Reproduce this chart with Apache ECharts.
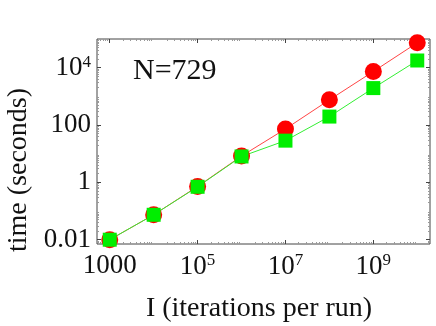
<!DOCTYPE html>
<html>
<head>
<meta charset="utf-8">
<script src="https://cdn.jsdelivr.net/npm/echarts@6/dist/echarts.min.js"></script>
<style>
  html, body { margin: 0; padding: 0; background: #fff; }
  #chart { width: 436px; height: 326px; }
</style>
</head>
<body>
<div id="chart"></div>
<script>
// iterations per run and measured times
const iterations = [1e3, 1e4, 1e5, 1e6, 1e7, 1e8, 1e9, 1e10];
const timeRed = [0.01, 0.074, 0.72, 8.3, 73, 755, 7350, 74000];
const timeGreen = [0.01, 0.074, 0.70, 8.0, 28.5, 197, 1940, 17800];

// tick positions (decade exponents) and their labels
const xTickExp = [3, 5, 7, 9];
const xTickLabels = ['1000', '10^5', '10^7', '10^9'];
const yTickExp = [-2, 0, 2, 4];
const yTickLabels = ['0.01', '1', '100', '10^4'];

const FONT = 'Liberation Serif';

function minorTicks(from, to) {
  let out = [];
  for (let e = from; e < to; e++) {
    for (let m = 2; m <= 9; m++) out.push(e + Math.log10(m));
  }
  return out;
}

function fmt(exps, labels) {
  return function (v) {
    let i = exps.findIndex(e => Math.abs(e - v) < 1e-6);
    if (i < 0) return '';
    let s = labels[i];
    if (s.indexOf('^') >= 0) {
      let p = s.split('^');
      return '{b|' + p[0] + '}{sup|' + p[1] + '}';
    }
    return '{b|' + s + '}';
  };
}

const rich = {
  b: { fontFamily: FONT, fontSize: 27, color: '#111', verticalAlign: 'bottom' },
  sup: { fontFamily: FONT, fontSize: 17, color: '#111', verticalAlign: 'bottom', padding: [0, 0, 11, 0] }
};

function axis(dir, pos, min, max, ticks, len, color, labels) {
  let a = {
    type: 'value',
    position: pos,
    min: min,
    max: max,
    axisLine: { show: false, onZero: false },
    splitLine: { show: false },
    axisTick: {
      show: true,
      inside: true,
      length: len,
      customValues: ticks,
      lineStyle: { color: color, width: 1 }
    },
    axisLabel: { show: false }
  };
  if (labels) {
    a.axisLabel = {
      show: true,
      margin: dir === 'x' ? 8 : 6,
      customValues: labels.exps,
      formatter: fmt(labels.exps, labels.text),
      rich: rich
    };
  }
  return a;
}

const xMin = 2.71, xMax = 10.29;
const yMin = -2.15, yMax = 5.0;

const chart = echarts.init(document.getElementById('chart'));

chart.setOption({
  animation: false,
  grid: {
    left: 97, right: 6, top: 39, bottom: 82,
    show: true,
    borderColor: '#444',
    borderWidth: 1,
    backgroundColor: 'transparent'
  },
  xAxis: [
    axis('x', 'bottom', xMin, xMax, xTickExp, 4, '#444', { exps: xTickExp, text: xTickLabels }),
    axis('x', 'bottom', xMin, xMax, minorTicks(2, 11), 2, '#999'),
    axis('x', 'top', xMin, xMax, xTickExp, 4, '#444'),
    axis('x', 'top', xMin, xMax, minorTicks(2, 11), 2, '#999')
  ],
  yAxis: [
    axis('y', 'left', yMin, yMax, yTickExp, 4, '#444', { exps: yTickExp, text: yTickLabels }),
    axis('y', 'left', yMin, yMax, minorTicks(-3, 5), 2, '#999'),
    axis('y', 'right', yMin, yMax, yTickExp, 4, '#444'),
    axis('y', 'right', yMin, yMax, minorTicks(-3, 5), 2, '#999')
  ],
  series: [
    {
      type: 'line',
      data: iterations.map((v, i) => [Math.log10(v), Math.log10(timeRed[i])]),
      symbol: 'circle',
      symbolSize: 17,
      itemStyle: { color: '#ff0000' },
      lineStyle: { color: '#ff4444', width: 1 }
    },
    {
      type: 'line',
      data: iterations.map((v, i) => [Math.log10(v), Math.log10(timeGreen[i])]),
      symbol: 'rect',
      symbolSize: 14,
      itemStyle: { color: '#00ee00' },
      lineStyle: { color: '#33ee33', width: 1 }
    }
  ],
  graphic: [
    {
      type: 'text',
      left: 133, top: 56,
      style: { text: 'N=729', fontFamily: FONT, fontSize: 30, fill: '#111' }
    },
    {
      type: 'text',
      x: 259, y: 309,
      style: {
        text: 'I (iterations per run)', fontFamily: FONT, fontSize: 28, fill: '#111',
        align: 'center', verticalAlign: 'middle'
      }
    },
    {
      type: 'text',
      x: 19, y: 170,
      rotation: Math.PI / 2,
      style: {
        text: 'time (seconds)', fontFamily: FONT, fontSize: 28, fill: '#111',
        align: 'center', verticalAlign: 'middle'
      }
    }
  ]
});
</script>
</body>
</html>
